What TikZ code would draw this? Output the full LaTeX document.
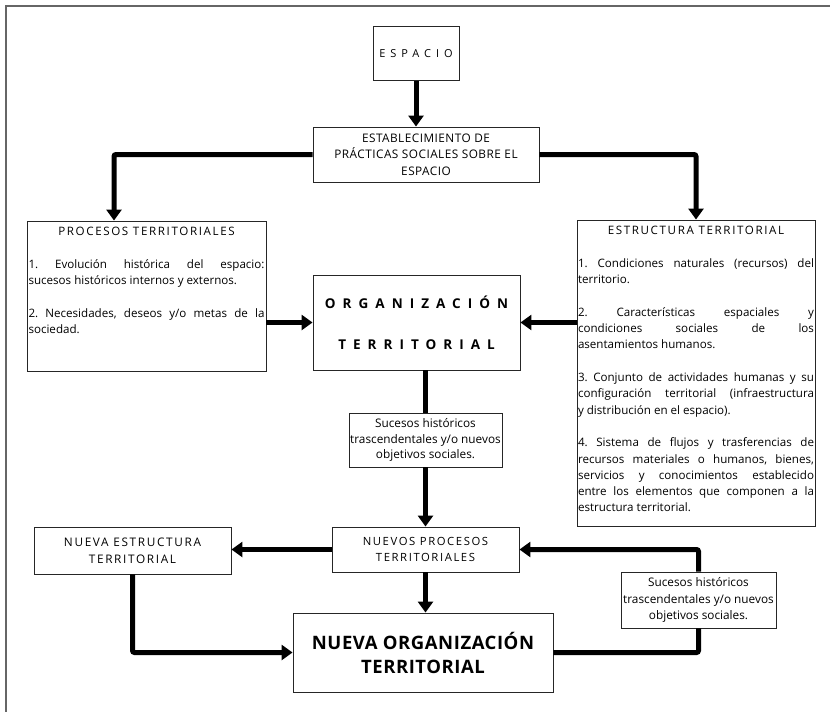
\documentclass[tikz,border=0pt]{standalone}
\usepackage{fontspec}
\setmainfont{Open Sans}
\newfontfamily\spacedfont[LetterSpace=14]{Open Sans}
\newfontfamily\widefont[LetterSpace=52]{Open Sans}
\usetikzlibrary{arrows.meta}
\frenchspacing
\hyphenpenalty=10000
\exhyphenpenalty=10000

\def\LINECOLOR{black}
\def\BOXCOLOR{black!85}
\def\FRAMECOLOR{black!60}

\tikzset{
	box/.style={draw=\BOXCOLOR,line width=0.9pt,inner sep=1pt,align=center,
		font=\fontsize{11}{15}\selectfont},
	listtext/.style={anchor=north,inner sep=1pt,text width=236pt,align=justify,
		font=\fontsize{11.6}{16.3}\selectfont},
	flow/.style={\LINECOLOR,line width=5pt,rounded corners=2pt,-{Triangle[width=15pt,length=11pt]}},
	link/.style={\LINECOLOR,line width=5pt,rounded corners=2pt},
}

\begin{document}
\begin{tikzpicture}[x=1pt,y=-1pt]

	\useasboundingbox (0,0) rectangle (830,712);
	\draw[\FRAMECOLOR,line width=1.5pt] (6,712) -- (6,6) -- (830,6);

	\node[box,minimum width=86pt,minimum height=54pt,font=\fontsize{11}{13}\selectfont\addfontfeatures{LetterSpace=45}] (espacio) at (416,53.5) {ESPACIO};
	\node[box,minimum width=226pt,minimum height=55pt,font=\fontsize{11.8}{16.5}\selectfont\addfontfeatures{LetterSpace=4}] (establecimiento) at (426,154.5) {ESTABLECIMIENTO DE\\PRÁCTICAS SOCIALES SOBRE EL\\ESPACIO};
	\node[box,minimum width=239pt,minimum height=150pt] (procesos) at (146.5,296) {};
	\node[box,minimum width=207pt,minimum height=95pt,font=\fontsize{13.5}{15}\widefont\bfseries] (organizacion) at (416.5,322.5) {ORGANIZACIÓN\\[26pt]TERRITORIAL};
	\node[box,minimum width=238pt,minimum height=306pt] (estructura) at (696,373) {};
	\node[box,minimum width=153pt,minimum height=54pt,font=\fontsize{11.8}{15.5}\selectfont] (sucesosuno) at (425.5,440) {Sucesos históricos\\trascendentales y/o nuevos\\objetivos sociales.};
	\node[box,minimum width=187pt,minimum height=45pt,font=\fontsize{11.3}{16}\spacedfont] (nuevosprocesos) at (425.5,549.5) {NUEVOS PROCESOS\\TERRITORIALES};
	\node[box,minimum width=197pt,minimum height=47pt,font=\fontsize{11.8}{17}\spacedfont] (nuevaestructura) at (132.5,550.5) {NUEVA ESTRUCTURA\\TERRITORIAL};
	\node[box,minimum width=260pt,minimum height=79pt,font=\fontsize{18.5}{24}\selectfont\bfseries\addfontfeatures{LetterSpace=3}] (nuevaorganizacion) at (423,652.5) {NUEVA ORGANIZACIÓN\\TERRITORIAL};
	\node[box,minimum width=155pt,minimum height=56pt,font=\fontsize{11.8}{16.5}\selectfont] (sucesosdos) at (698.5,600) {Sucesos históricos\\trascendentales y/o nuevos\\objetivos sociales.};

	\node[listtext] (procesostexto) at ([yshift=-5pt]procesos.north) {{\centering\spacedfont PROCESOS TERRITORIALES\par}
		\vspace{17pt}
		1. Evolución histórica del espacio:\linebreak sucesos históricos internos y externos.\par
		\vspace{16.3pt}
		2. Necesidades, deseos y/o metas de la\linebreak sociedad.\par};
	\node[listtext] (estructuratexto) at ([yshift=-5pt]estructura.north) {{\centering\spacedfont ESTRUCTURA TERRITORIAL\par}
		\vspace{17pt}
		1. Condiciones naturales (recursos) del\linebreak territorio.\par
		\vspace{16.3pt}
		2. Características espaciales y\linebreak condiciones sociales de los\linebreak asentamientos humanos.\par
		\vspace{16.3pt}
		3. Conjunto de actividades humanas y su\linebreak configuración territorial (infraestructura\linebreak y distribución en el espacio).\par
		\vspace{16.3pt}
		4. Sistema de flujos y trasferencias de\linebreak recursos materiales o humanos, bienes,\linebreak servicios y conocimientos establecido\linebreak entre los elementos que componen a la\linebreak estructura territorial.\par};

	\draw[flow] (espacio.south) -- (espacio.south |- establecimiento.north);
	\draw[flow] (establecimiento.west) -| ([xshift=-32.5pt]procesos.north);
	\draw[flow] (establecimiento.east) -| (estructura.north);
	\draw[flow] (procesos.east |- organizacion.west) -- (organizacion.west);
	\draw[flow] (estructura.west |- organizacion.east) -- (organizacion.east);
	\draw[link] (organizacion.south -| sucesosuno.north) -- (sucesosuno.north);
	\draw[flow] (sucesosuno.south) -- (nuevosprocesos.north);
	\draw[flow] (nuevosprocesos.west) -- (nuevosprocesos.west -| nuevaestructura.east);
	\draw[flow] (nuevosprocesos.south) -- (nuevosprocesos.south |- nuevaorganizacion.north);
	\draw[flow] (nuevaestructura.south) |- (nuevaorganizacion.west);
	\draw[link] (nuevaorganizacion.east) -| (sucesosdos.south);
	\draw[flow] (sucesosdos.north) |- (nuevosprocesos.east);

\end{tikzpicture}
\end{document}
